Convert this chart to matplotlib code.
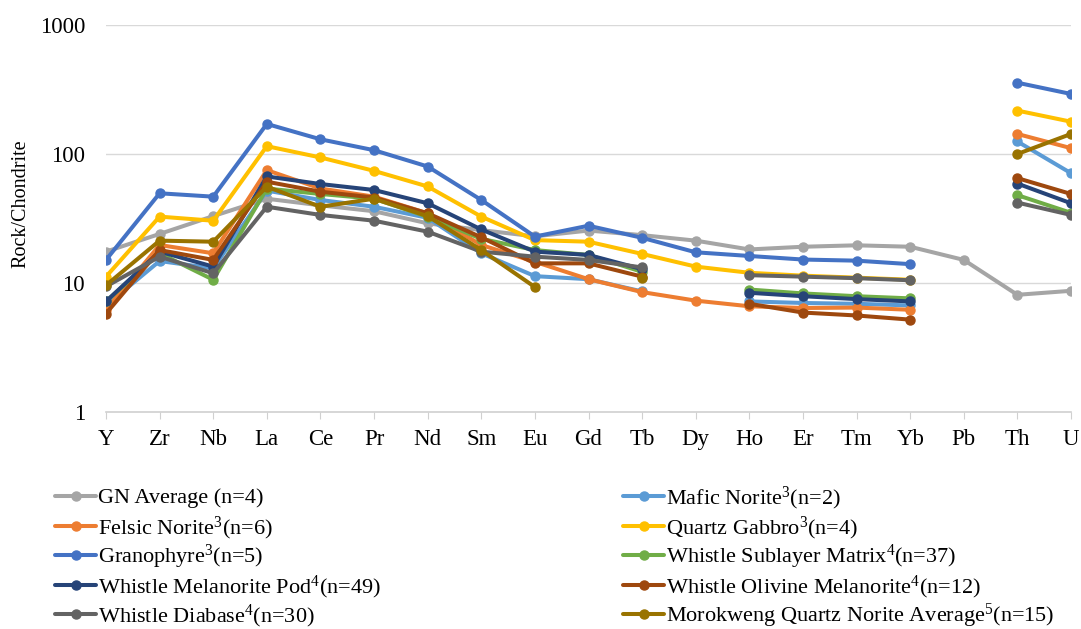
import numpy as np
import matplotlib.pyplot as plt

plt.rcParams['font.family'] = ['Liberation Serif', 'DejaVu Serif']
plt.rcParams['mathtext.fontset'] = 'custom'
plt.rcParams['mathtext.rm'] = 'Liberation Serif'
plt.rcParams['mathtext.it'] = 'Liberation Serif:italic'

nan = np.nan
elements = ['Y', 'Zr', 'Nb', 'La', 'Ce', 'Pr', 'Nd', 'Sm', 'Eu', 'Gd',
            'Tb', 'Dy', 'Ho', 'Er', 'Tm', 'Yb', 'Pb', 'Th', 'U']

# chondrite-normalised values, one list per suite
gn_average = [17.5, 24, 33, 45, 40, 36, 29, 25.7, 23, 25.5, 23.5, 21.3, 18.2, 19.1, 19.6, 19.1, 15.1, 8.1, 8.7]
mafic_norite = [6.7, 14.8, 13, 52, 44, 39, 32, 17, 11.3, 10.7, 8.6, nan, 7.2, 7.0, 6.9, 6.7, nan, 125, 71]
felsic_norite = [6.2, 19.7, 17, 75, 54, 46.7, 34.7, 19.7, 14.6, 10.7, 8.5, 7.3, 6.6, 6.4, 6.45, 6.2, nan, 143, 111]
quartz_gabbro = [11.2, 32.7, 30.4, 115, 94, 74, 56, 32.7, 21.5, 20.9, 16.8, 13.4, 12.0, 11.4, 11.0, 10.6, nan, 217, 178]
granophyre = [15.1, 49.6, 46.7, 171, 130, 107, 80, 44, 22.9, 27.8, 22.4, 17.3, 16.2, 15.2, 14.9, 14.0, nan, 357, 292]
sublayer_matrix = [7.2, 17, 10.6, 54, 49, 45, 32.6, 22, 18, 16.5, 12.2, nan, 8.9, 8.3, 7.9, 7.6, nan, 48, 35]
melanorite_pod = [7.2, 17.5, 13.4, 67, 58.5, 52.6, 41.5, 26, 17.5, 16.5, 12.8, nan, 8.4, 7.9, 7.5, 7.2, nan, 59, 41.5]
olivine_melanorite = [5.8, 18, 15.1, 61, 51, 46, 34.7, 22.6, 14.2, 14.2, 11.2, nan, 6.9, 5.9, 5.6, 5.2, nan, 65, 49]
diabase = [9.4, 16, 11.9, 39, 33.7, 30.4, 25, 17.5, 16, 15.1, 13.2, nan, 11.5, 11.2, 10.9, 10.5, nan, 42, 33.7]
morokweng = [9.6, 21.3, 20.9, 55.8, 39, 45, 33, 18, 9.3, nan, 10.9, nan, nan, nan, nan, nan, nan, 100, 143]

series = [
    (gn_average, 'GN Average (n=4)', '#A5A5A5'),
    (mafic_norite, 'Mafic Norite$^{3}$(n=2)', '#5B9BD5'),
    (felsic_norite, 'Felsic Norite$^{3}$(n=6)', '#ED7D31'),
    (quartz_gabbro, 'Quartz Gabbro$^{3}$(n=4)', '#FFC000'),
    (granophyre, 'Granophyre$^{3}$(n=5)', '#4472C4'),
    (sublayer_matrix, 'Whistle Sublayer Matrix$^{4}$(n=37)', '#70AD47'),
    (melanorite_pod, 'Whistle Melanorite Pod$^{4}$(n=49)', '#264478'),
    (olivine_melanorite, 'Whistle Olivine Melanorite$^{4}$(n=12)', '#9E480E'),
    (diabase, 'Whistle Diabase$^{4}$(n=30)', '#636363'),
    (morokweng, 'Morokweng Quartz Norite Average$^{5}$(n=15)', '#997300'),
]

W, H = 1081, 629
fig = plt.figure(figsize=(W / 100, H / 100), dpi=100)
ax = fig.add_axes([106 / W, 1 - 412 / H, (1071 - 106) / W, (412 - 25) / H])

x = np.arange(len(elements))
handles = []
for vals, label, color in series:
    h, = ax.plot(x, vals, color=color, lw=2.9, marker='o', ms=6.5,
                 label=label, solid_capstyle='round', solid_joinstyle='round')
    handles.append(h)

ax.set_yscale('log')
ax.set_ylim(1, 1000)
ax.set_xlim(0, len(elements) - 1)
ax.set_yticks([1, 10, 100, 1000])
ax.set_yticklabels(['1', '10', '100', '1000'])
ax.minorticks_off()
ax.set_xticks(x)
ax.set_xticklabels(elements)

for v in [10, 100, 1000]:
    ax.axhline(v, color='#D9D9D9', lw=1, zorder=0)
for s in ['top', 'right', 'left']:
    ax.spines[s].set_visible(False)
ax.spines['bottom'].set_color('#D0D0D0')
ax.spines['bottom'].set_linewidth(1.2)
ax.tick_params(axis='x', length=5, color='#D0D0D0', labelsize=16.5, pad=7)
ax.tick_params(axis='y', length=0, labelsize=16.5, pad=15)
ax.set_ylabel('Rock/Chondrite', fontsize=14.5)
ax.yaxis.set_label_coords(-0.078, 0.537)
for lab in ax.get_xticklabels():
    lab.set_clip_on(False)

# legend laid out as two columns, one entry per row
row_y = [498, 528, 557, 587, 616]
for i, h in enumerate(handles):
    col, row = i % 2, i // 2
    x0 = 55 if col == 0 else 623
    fig.legend([h], [h.get_label()], loc='center left', frameon=False,
               fontsize=16, borderpad=0, borderaxespad=0, numpoints=1,
               handlelength=1.85, handletextpad=0.1,
               bbox_to_anchor=(x0 / W, 1 - row_y[row] / H))

fig.savefig('out.png', dpi=100)
